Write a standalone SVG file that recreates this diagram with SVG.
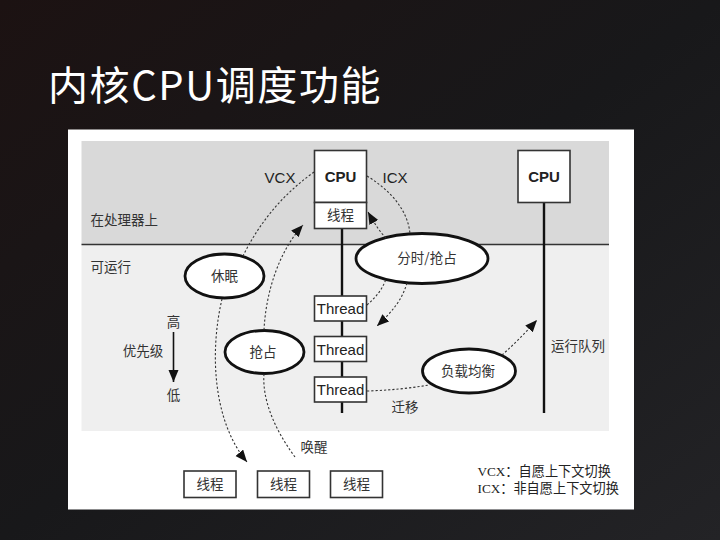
<svg xmlns="http://www.w3.org/2000/svg" width="720" height="540" viewBox="0 0 720 540">
<defs>
<linearGradient id="bg" x1="0" y1="0" x2="1" y2="1">
<stop offset="0" stop-color="#1c1212"/>
<stop offset="0.5" stop-color="#18181a"/>
<stop offset="1" stop-color="#232326"/>
</linearGradient>
<marker id="ah" markerUnits="userSpaceOnUse" markerWidth="14" markerHeight="12" refX="12" refY="5" orient="auto">
<path d="M0,0 L12,5 L0,10 z" fill="#111"/>
</marker>
<style>
.box{fill:#fff;stroke:#333;stroke-width:1.6}
.ell{fill:#fff;stroke:#111;stroke-width:2.8}
.dash{fill:none;stroke:#333;stroke-width:1.1;stroke-dasharray:2.2 2}
.cn{font-family:"Noto Sans CJK SC",sans-serif;font-size:13.5px;fill:#333}
.lat{font-family:"Liberation Sans",Arial,sans-serif;font-size:15px;fill:#222}
.mid{text-anchor:middle}
.leg{font-family:"Liberation Serif","Noto Sans CJK SC",serif;font-size:13.2px;fill:#222}
</style>
</defs>
<rect x="0" y="0" width="720" height="540" fill="url(#bg)"/>
<text x="48" y="100" font-family="'Noto Sans CJK SC',sans-serif" font-size="40" letter-spacing="1.6" fill="#fff">内核CPU调度功能</text>
<rect x="68" y="129.5" width="566" height="380" fill="#fff"/>
<rect x="81.5" y="141" width="527.5" height="103.5" fill="#d9d9d9"/>
<rect x="81.5" y="244.5" width="527.5" height="186.5" fill="#efefef"/>
<line x1="81.5" y1="244.5" x2="609" y2="244.5" stroke="#333" stroke-width="1.4"/>
<text class="cn" x="90.5" y="225">在处理器上</text>
<text class="cn" x="90.5" y="272">可运行</text>
<text class="cn mid" x="173.5" y="327">高</text>
<text class="cn mid" x="143" y="355.5">优先级</text>
<text class="cn mid" x="173.5" y="400">低</text>
<text class="cn" x="551" y="351">运行队列</text>
<text class="cn mid" x="405" y="412">迁移</text>
<text class="cn mid" x="314" y="452">唤醒</text>
<text class="lat mid" x="280" y="183">VCX</text>
<text class="lat mid" x="395" y="183">ICX</text>
<line x1="173.5" y1="332" x2="173.5" y2="382" stroke="#111" stroke-width="1.6" marker-end="url(#ah)"/>
<line x1="342" y1="228" x2="342" y2="413" stroke="#111" stroke-width="2.4"/>
<line x1="544" y1="202" x2="544" y2="413" stroke="#111" stroke-width="2.4"/>
<g id="cpu1">
<rect class="box" x="314.5" y="150.5" width="52" height="52"/>
<text class="lat mid" x="340.5" y="181.5" font-weight="bold">CPU</text>
</g>
<g id="cpu1-thread">
<rect class="box" x="314.5" y="202.5" width="52" height="26"/>
<text class="cn mid" x="340.5" y="220">线程</text>
</g>
<g id="cpu2">
<rect class="box" x="518" y="150.5" width="52" height="52"/>
<text class="lat mid" x="544" y="181.5" font-weight="bold">CPU</text>
</g>
<g id="thread1">
<rect class="box" x="314.5" y="296" width="52" height="25"/>
<text class="lat mid" x="340.5" y="314">Thread</text>
</g>
<g id="thread2">
<rect class="box" x="314.5" y="336.5" width="52" height="25"/>
<text class="lat mid" x="340.5" y="354.5">Thread</text>
</g>
<g id="thread3">
<rect class="box" x="314.5" y="377" width="52" height="25"/>
<text class="lat mid" x="340.5" y="395">Thread</text>
</g>
<g id="sleep">
<ellipse class="ell" cx="224.5" cy="276" rx="39.5" ry="22"/>
<text class="cn mid" x="224.5" y="280.5">休眠</text>
</g>
<g id="timeslice">
<ellipse class="ell" cx="422" cy="258.5" rx="66" ry="25"/>
<text class="cn mid" x="427" y="263">分时/抢占</text>
</g>
<g id="preempt">
<ellipse class="ell" cx="264.5" cy="352" rx="39.5" ry="21.5"/>
<text class="cn mid" x="263" y="356.5">抢占</text>
</g>
<g id="balance">
<ellipse class="ell" cx="469" cy="371" rx="46.5" ry="22"/>
<text class="cn mid" x="468" y="375.5">负载均衡</text>
</g>
<g id="wait1">
<rect class="box" x="184" y="471" width="52" height="26.5"/>
<text class="cn mid" x="210" y="489">线程</text>
</g>
<g id="wait2">
<rect class="box" x="257.5" y="471" width="52" height="26.5"/>
<text class="cn mid" x="283.5" y="489">线程</text>
</g>
<g id="wait3">
<rect class="box" x="330.5" y="471" width="52" height="26.5"/>
<text class="cn mid" x="356.5" y="489">线程</text>
</g>
<g id="connectors">
<path class="dash" d="M314,172 Q268,205 243,256"/>
<path class="dash" d="M222,299 C210,350 212,420 247,462" marker-end="url(#ah)"/>
<path class="dash" d="M295,457 C275,430 262,400 264,374"/>
<path class="dash" d="M264,330 C266,290 280,250 303,225" marker-end="url(#ah)"/>
<path class="dash" d="M367,176 C390,190 408,210 410,234"/>
<path class="dash" d="M386,238 Q378,230 368,212" marker-end="url(#ah)"/>
<path class="dash" d="M367,305 C376,297 382,290 386,279"/>
<path class="dash" d="M407,283 C402,300 392,312 377,326" marker-end="url(#ah)"/>
<path class="dash" d="M367,391 Q400,390 429,385"/>
<path class="dash" d="M502,355 Q520,339 537,320" marker-end="url(#ah)"/>
</g>
<text class="leg" x="477.5" y="476">VCX：自愿上下文切换</text>
<text class="leg" x="477.5" y="493">ICX：非自愿上下文切换</text>
</svg>
